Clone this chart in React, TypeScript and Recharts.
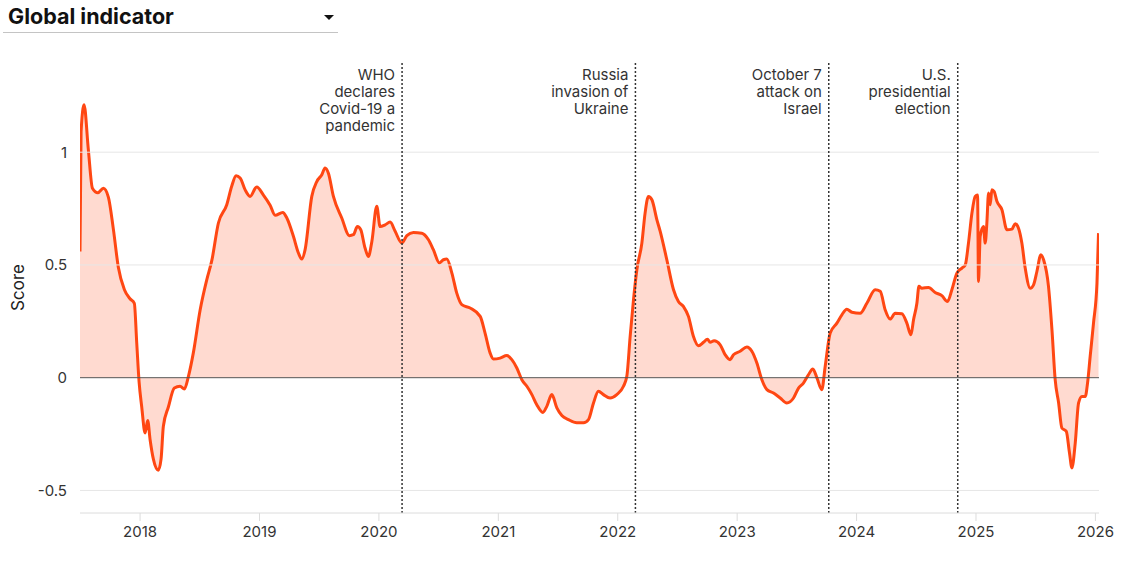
import React from 'react';
import { AreaChart, Area, XAxis, YAxis, ReferenceLine } from 'recharts';

// decimal years
const dates = [
    2017.497, 2017.506, 2017.531, 2017.567, 2017.601, 2017.646, 2017.693, 2017.735, 2017.776, 2017.818,
    2017.869, 2017.916, 2017.952, 2017.972, 2017.992, 2018.014, 2018.042, 2018.064, 2018.084, 2018.111,
    2018.153, 2018.176, 2018.195, 2018.237, 2018.287, 2018.335, 2018.371, 2018.405, 2018.446, 2018.503,
    2018.559, 2018.601, 2018.656, 2018.726, 2018.768, 2018.804, 2018.838, 2018.879, 2018.921, 2018.977,
    2019.033, 2019.089, 2019.131, 2019.195, 2019.229, 2019.284, 2019.326, 2019.354, 2019.382, 2019.438,
    2019.480, 2019.522, 2019.549, 2019.577, 2019.619, 2019.689, 2019.753, 2019.786, 2019.820, 2019.848,
    2019.884, 2019.912, 2019.941, 2019.982, 2020.010, 2020.052, 2020.094, 2020.136, 2020.192, 2020.234,
    2020.289, 2020.359, 2020.415, 2020.456, 2020.507, 2020.540, 2020.569, 2020.611, 2020.652, 2020.694,
    2020.764, 2020.848, 2020.889, 2020.931, 2020.959, 2021.015, 2021.071, 2021.113, 2021.155, 2021.197,
    2021.239, 2021.281, 2021.322, 2021.373, 2021.406, 2021.448, 2021.490, 2021.532, 2021.587, 2021.657,
    2021.713, 2021.755, 2021.797, 2021.838, 2021.880, 2021.936, 2021.992, 2022.048, 2022.076, 2022.104,
    2022.132, 2022.160, 2022.202, 2022.229, 2022.257, 2022.286, 2022.328, 2022.355, 2022.411, 2022.467,
    2022.508, 2022.550, 2022.592, 2022.634, 2022.676, 2022.718, 2022.751, 2022.774, 2022.807, 2022.858,
    2022.899, 2022.941, 2022.969, 2023.025, 2023.081, 2023.123, 2023.165, 2023.207, 2023.249, 2023.304,
    2023.360, 2023.416, 2023.472, 2023.514, 2023.555, 2023.597, 2023.634, 2023.668, 2023.709, 2023.737,
    2023.779, 2023.835, 2023.877, 2023.918, 2023.961, 2024.030, 2024.086, 2024.156, 2024.198, 2024.240,
    2024.281, 2024.323, 2024.379, 2024.421, 2024.455, 2024.477, 2024.505, 2024.522, 2024.547, 2024.602,
    2024.658, 2024.714, 2024.761, 2024.798, 2024.840, 2024.882, 2024.910, 2024.937, 2024.966, 2024.993,
    2025.013, 2025.021, 2025.035, 2025.063, 2025.077, 2025.091, 2025.105, 2025.119, 2025.133, 2025.152,
    2025.175, 2025.217, 2025.259, 2025.301, 2025.328, 2025.356, 2025.384, 2025.412, 2025.454, 2025.482,
    2025.510, 2025.543, 2025.566, 2025.607, 2025.636, 2025.663, 2025.692, 2025.719, 2025.756, 2025.783,
    2025.803, 2025.831, 2025.859, 2025.887, 2025.915, 2025.934, 2025.956, 2025.984, 2026.013, 2026.026,
];

const scores = [
    0.56, 1.09, 1.21, 1.01, 0.84, 0.82, 0.84, 0.80, 0.66, 0.49,
    0.39, 0.35, 0.33, 0.155, -0.02, -0.13, -0.245, -0.19, -0.275, -0.36,
    -0.41, -0.36, -0.215, -0.13, -0.046, -0.038, -0.05, 0.006, 0.11, 0.30,
    0.435, 0.52, 0.686, 0.767, 0.85, 0.896, 0.886, 0.834, 0.804, 0.846,
    0.81, 0.765, 0.72, 0.733, 0.708, 0.627, 0.553, 0.526, 0.568, 0.804,
    0.87, 0.90, 0.93, 0.907, 0.804, 0.708, 0.63, 0.634, 0.67, 0.656,
    0.575, 0.538, 0.604, 0.76, 0.67, 0.678, 0.69, 0.649, 0.597, 0.63,
    0.644, 0.641, 0.612, 0.568, 0.509, 0.523, 0.526, 0.464, 0.375, 0.324,
    0.309, 0.272, 0.198, 0.11, 0.083, 0.087, 0.098, 0.08, 0.043, -0.009,
    -0.038, -0.075, -0.12, -0.154, -0.127, -0.075, -0.134, -0.168, -0.186, -0.20,
    -0.20, -0.186, -0.112, -0.06, -0.075, -0.09, -0.075, -0.038, 0.006, 0.183,
    0.346, 0.479, 0.597, 0.73, 0.804, 0.789, 0.70, 0.65, 0.523, 0.39,
    0.338, 0.316, 0.272, 0.183, 0.142, 0.157, 0.171, 0.157, 0.164, 0.146,
    0.102, 0.08, 0.102, 0.117, 0.136, 0.117, 0.065, -0.009, -0.053, -0.068,
    -0.09, -0.112, -0.09, -0.046, -0.024, 0.013, 0.039, -0.001, -0.053, 0.05,
    0.198, 0.242, 0.279, 0.304, 0.29, 0.286, 0.33, 0.39, 0.383, 0.30,
    0.26, 0.286, 0.284, 0.242, 0.19, 0.257, 0.33, 0.405, 0.397, 0.40,
    0.378, 0.364, 0.338, 0.39, 0.464, 0.486, 0.50, 0.597, 0.73, 0.804,
    0.81, 0.427, 0.627, 0.67, 0.597, 0.686, 0.819, 0.767, 0.834, 0.826,
    0.782, 0.745, 0.656, 0.659, 0.683, 0.663, 0.597, 0.486, 0.397, 0.412,
    0.471, 0.545, 0.523, 0.405, 0.213, -0.009, -0.112, -0.223, -0.238, -0.334,
    -0.40, -0.29, -0.112, -0.083, -0.083, -0.024, 0.094, 0.242, 0.42, 0.641,
];

const yearTicks = [2018, 2019, 2020, 2021, 2022, 2023, 2024, 2025, 2026];
const scoreTicks = [-0.5, 0, 0.5, 1];
const gridValues = [-0.5, 0.5, 1];

const eventDates = [2020.194, 2022.148, 2023.767, 2024.847];
const eventLabels = [
    ['WHO', 'declares', 'Covid-19 a', 'pandemic'],
    ['Russia', 'invasion of', 'Ukraine'],
    ['October 7', 'attack on', 'Israel'],
    ['U.S.', 'presidential', 'election'],
];

const chartData = dates.map((t, i) => ({ t, score: scores[i] }));

const FONT = 'Inter, "DejaVu Sans", sans-serif';
const LINE = '#ff4713';

// 多行事件标注，右对齐在虚线左侧
function EventLabel({ viewBox, lines }: any) {
    if (!viewBox) return null;
    const x = viewBox.x - 7;
    const y = viewBox.y + 18;
    return (
        <text x={x} y={y} textAnchor="end" fill="#333" fontSize={15} fontFamily={FONT}>
            {lines.map((l: string, i: number) => (
                <tspan key={i} x={x} dy={i === 0 ? 0 : 17}>{l}</tspan>
            ))}
        </text>
    );
}

export default function App() {
    return (
        <div style={{ position: 'absolute', left: 0, top: 0, width: 1133, height: 561, background: '#fff', fontFamily: FONT }}>
            <div style={{ position: 'absolute', left: 8, top: 3, fontSize: 21.5, fontWeight: 700, color: '#111', lineHeight: '26px' }}>
                Global indicator
            </div>
            <div style={{
                position: 'absolute', left: 324, top: 15, width: 0, height: 0,
                borderLeft: '5px solid transparent', borderRight: '5px solid transparent', borderTop: '5px solid #111'
            }} />
            <div style={{ position: 'absolute', left: 3, top: 32, width: 335, height: 1, background: '#c4c4c4' }} />
            <div style={{ position: 'absolute', left: 0, top: 0 }}>
                <AreaChart
                    width={1133}
                    height={561}
                    data={chartData}
                    margin={{ top: 62, right: 34, bottom: 18, left: 20 }}
                >
                    <XAxis
                        type="number"
                        dataKey="t"
                        domain={[2017.497, 2026.03]}
                        ticks={yearTicks}
                        allowDataOverflow
                        height={30}
                        stroke="#dcdcdc"
                        tickSize={8}
                        tickMargin={5}
                        tick={{ fill: '#333', fontSize: 15, fontFamily: FONT }}
                    />
                    <YAxis
                        type="number"
                        domain={[-0.6, 1.4]}
                        ticks={scoreTicks}
                        allowDataOverflow
                        width={60}
                        axisLine={false}
                        tickLine={false}
                        tickMargin={7}
                        tick={{ fill: '#333', fontSize: 15, fontFamily: FONT }}
                        label={{ value: 'Score', angle: -90, position: 'center', dx: -32, fill: '#222', fontSize: 17, fontFamily: FONT }}
                    />
                    {gridValues.map((v) => (
                        <ReferenceLine key={v} y={v} stroke="#e6e6e6" strokeWidth={1} />
                    ))}
                    <Area
                        type="monotone"
                        dataKey="score"
                        baseValue={0}
                        stroke={LINE}
                        strokeWidth={3}
                        fill={LINE}
                        fillOpacity={0.2}
                        dot={false}
                        activeDot={false}
                        isAnimationActive={false}
                    />
                    <ReferenceLine y={0} stroke="#555" strokeWidth={1} />
                    {eventDates.map((d, i) => (
                        <ReferenceLine
                            key={d}
                            x={d}
                            stroke="#333"
                            strokeWidth={1.5}
                            strokeDasharray="2 2"
                            label={(props: any) => <EventLabel {...props} lines={eventLabels[i]} />}
                        />
                    ))}
                </AreaChart>
            </div>
        </div>
    );
}
